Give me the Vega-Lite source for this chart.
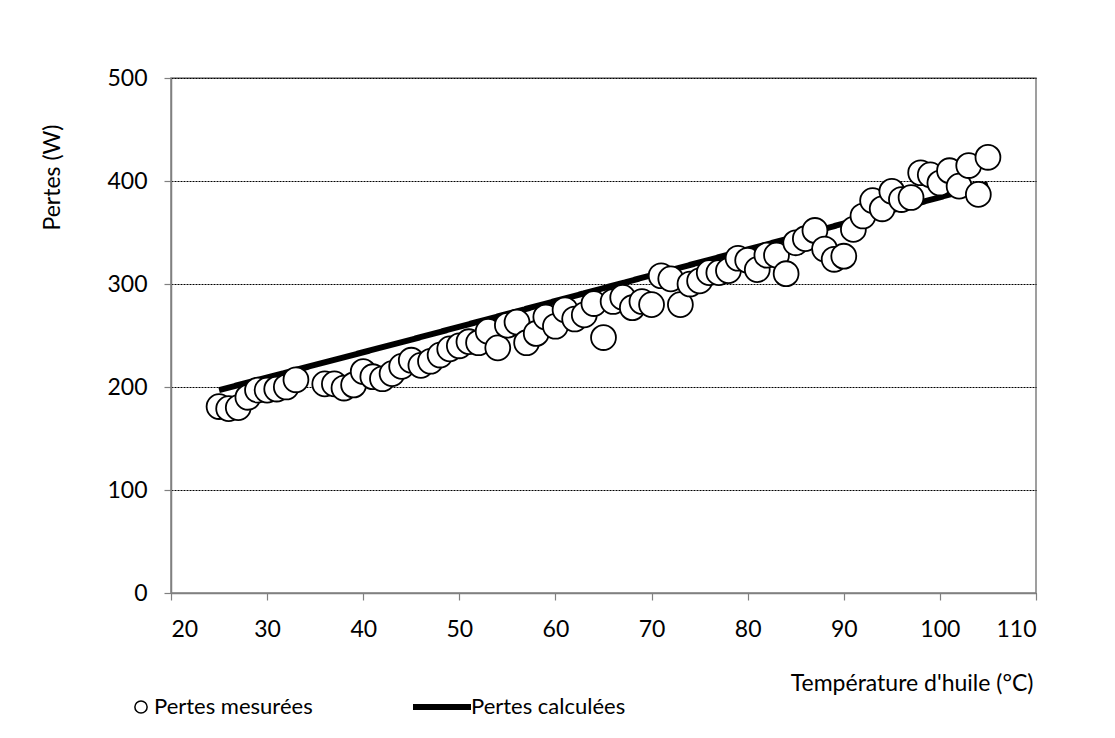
{
  "$schema": "https://vega.github.io/schema/vega-lite/v6.json",
  "autosize": "none",
  "width": 865,
  "height": 515,
  "padding": {"left": 171, "top": 78, "right": 79, "bottom": 145},
  "background": "white",
  "config": {
    "font": "Lato",
    "view": {"stroke": "#808080", "strokeWidth": 1.5},
    "axis": {
      "labelFont": "Lato",
      "titleFont": "Lato",
      "labelFontSize": 23,
      "titleFontSize": 23,
      "titleFontWeight": "normal",
      "labelColor": "black",
      "titleColor": "black",
      "domainColor": "#808080",
      "domainWidth": 1.5,
      "tickColor": "#808080",
      "tickWidth": 1.2
    },
    "legend": {"labelFont": "Lato", "labelFontSize": 22, "labelColor": "black", "labelLimit": 0, "padding": 0}
  },
  "datasets": {
    "mes": [
      {"temp": 25, "pertes": 181}, {"temp": 26, "pertes": 179}, {"temp": 27, "pertes": 180},
      {"temp": 28, "pertes": 190}, {"temp": 29, "pertes": 197}, {"temp": 30, "pertes": 197},
      {"temp": 31, "pertes": 198}, {"temp": 32, "pertes": 200}, {"temp": 33, "pertes": 207},
      {"temp": 36, "pertes": 203}, {"temp": 37, "pertes": 203}, {"temp": 38, "pertes": 199},
      {"temp": 39, "pertes": 202}, {"temp": 40, "pertes": 215}, {"temp": 41, "pertes": 210},
      {"temp": 42, "pertes": 208}, {"temp": 43, "pertes": 213}, {"temp": 44, "pertes": 220},
      {"temp": 45, "pertes": 226}, {"temp": 46, "pertes": 221}, {"temp": 47, "pertes": 225},
      {"temp": 48, "pertes": 231}, {"temp": 49, "pertes": 237}, {"temp": 50, "pertes": 240},
      {"temp": 51, "pertes": 244}, {"temp": 52, "pertes": 243}, {"temp": 53, "pertes": 254},
      {"temp": 54, "pertes": 238}, {"temp": 55, "pertes": 260}, {"temp": 56, "pertes": 263},
      {"temp": 57, "pertes": 243}, {"temp": 58, "pertes": 252}, {"temp": 59, "pertes": 268},
      {"temp": 60, "pertes": 259}, {"temp": 61, "pertes": 275}, {"temp": 62, "pertes": 266},
      {"temp": 63, "pertes": 270}, {"temp": 64, "pertes": 281}, {"temp": 65, "pertes": 248},
      {"temp": 66, "pertes": 283}, {"temp": 67, "pertes": 287}, {"temp": 68, "pertes": 277},
      {"temp": 69, "pertes": 283}, {"temp": 70, "pertes": 280}, {"temp": 71, "pertes": 308},
      {"temp": 72, "pertes": 305}, {"temp": 73, "pertes": 280}, {"temp": 74, "pertes": 300},
      {"temp": 75, "pertes": 303}, {"temp": 76, "pertes": 311}, {"temp": 77, "pertes": 311},
      {"temp": 78, "pertes": 313}, {"temp": 79, "pertes": 325}, {"temp": 80, "pertes": 323},
      {"temp": 81, "pertes": 314}, {"temp": 82, "pertes": 328}, {"temp": 83, "pertes": 328},
      {"temp": 84, "pertes": 310}, {"temp": 85, "pertes": 340}, {"temp": 86, "pertes": 344},
      {"temp": 87, "pertes": 352}, {"temp": 88, "pertes": 334}, {"temp": 89, "pertes": 324},
      {"temp": 90, "pertes": 327}, {"temp": 91, "pertes": 353}, {"temp": 92, "pertes": 366},
      {"temp": 93, "pertes": 381}, {"temp": 94, "pertes": 373}, {"temp": 95, "pertes": 390},
      {"temp": 96, "pertes": 382}, {"temp": 97, "pertes": 384}, {"temp": 98, "pertes": 408},
      {"temp": 99, "pertes": 406}, {"temp": 100, "pertes": 398}, {"temp": 101, "pertes": 410},
      {"temp": 102, "pertes": 395}, {"temp": 103, "pertes": 415}, {"temp": 104, "pertes": 387},
      {"temp": 105, "pertes": 423}
    ],
    "calc": [
      {"temp": 25, "pertes": 197}, {"temp": 45, "pertes": 246}, {"temp": 65, "pertes": 296},
      {"temp": 85, "pertes": 346}, {"temp": 105, "pertes": 397}
    ]
  },
  "layer": [
    {
      "data": {"name": "calc"},
      "mark": {"type": "line", "color": "black", "strokeWidth": 6},
      "encoding": {
        "x": {
          "field": "temp", "type": "quantitative",
          "scale": {"domain": [20, 110], "nice": false, "zero": false},
          "axis": {
            "values": [20, 30, 40, 50, 60, 70, 80, 90, 100, 110],
            "grid": false,
            "tickSize": 7,
            "labelPadding": 18,
            "title": "Température d'huile (°C)",
            "titleAnchor": "end",
            "titleAlign": "right",
            "titleBaseline": "middle",
            "titleX": 862,
            "titleY": 90
          }
        },
        "y": {
          "field": "pertes", "type": "quantitative",
          "scale": {"domain": [0, 500], "nice": false},
          "axis": {
            "values": [0, 100, 200, 300, 400, 500],
            "grid": true,
            "gridColor": "black",
            "gridDash": [2, 1],
            "gridWidth": 1,
            "tickSize": 7,
            "labelPadding": 17,
            "title": "Pertes (W)",
            "titleAngle": -90,
            "titleAlign": "center",
            "titleBaseline": "middle",
            "titleX": -119,
            "titleY": 99
          }
        },
        "strokeDash": {
          "datum": "Pertes calculées",
          "scale": {"range": [[1, 0]]},
          "legend": {
            "title": null,
            "orient": "none",
            "legendX": 239,
            "legendY": 597,
            "symbolType": "stroke",
            "symbolSize": 3364,
            "symbolStrokeWidth": 6,
            "symbolStrokeColor": "black",
            "labelOffset": -3
          }
        }
      }
    },
    {
      "data": {"name": "mes"},
      "mark": {"type": "point", "shape": "circle", "filled": false, "fill": "white", "fillOpacity": 1, "strokeWidth": 1.8, "size": 620, "opacity": 1},
      "encoding": {
        "x": {"field": "temp", "type": "quantitative"},
        "y": {"field": "pertes", "type": "quantitative"},
        "color": {
          "datum": "Pertes mesurées",
          "scale": {"range": ["black"]},
          "legend": {
            "title": null,
            "orient": "none",
            "legendX": -41,
            "legendY": 618,
            "symbolType": "circle",
            "symbolSize": 150,
            "symbolStrokeWidth": 1.5,
            "labelOffset": 2
          }
        }
      }
    }
  ]
}
